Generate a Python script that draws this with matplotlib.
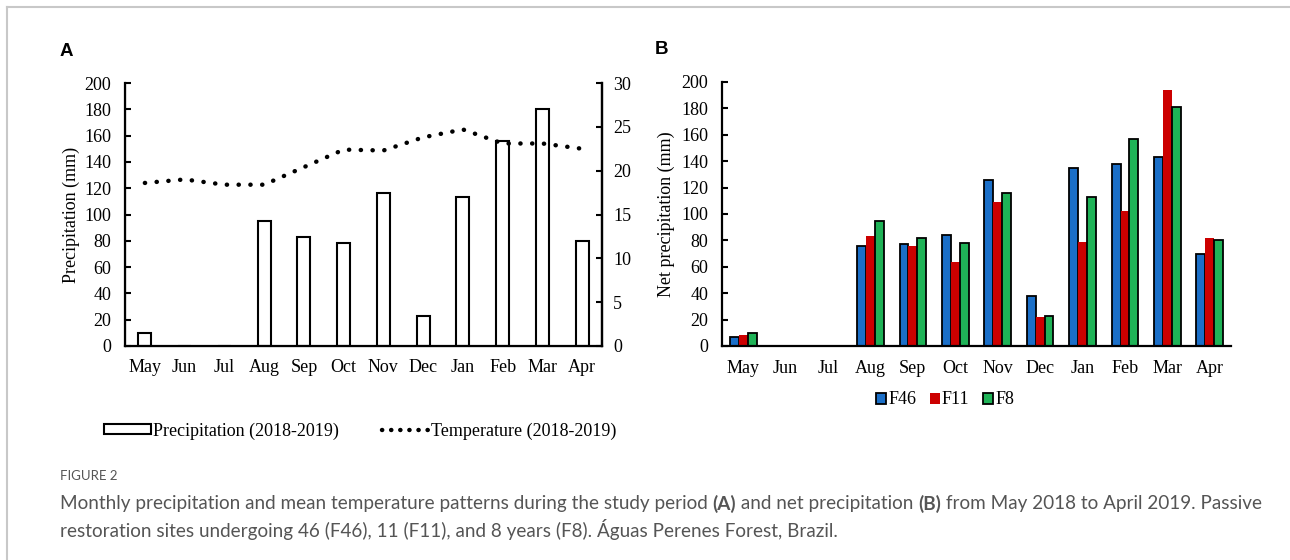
import matplotlib
matplotlib.use("Agg")
import matplotlib.pyplot as plt
import numpy as np
from matplotlib.lines import Line2D
from matplotlib.patches import Patch

# ── Data ──
months = ["May", "Jun", "Jul", "Aug", "Sep", "Oct", "Nov", "Dec", "Jan", "Feb", "Mar", "Apr"]
precipitation = [10, 0, 0, 95, 83, 78, 116, 23, 113, 156, 180, 80]
temperature = [18.6, 19.0, 18.4, 18.4, 20.4, 22.4, 22.3, 23.8, 24.7, 23.1, 23.1, 22.5]
f46 = [7, 0, 0, 76, 77, 84, 126, 38, 135, 138, 143, 70]
f11 = [8, 0, 0, 83, 76, 64, 109, 22, 79, 102, 194, 82]
f8 = [10, 0, 0, 95, 82, 78, 116, 23, 113, 157, 181, 80]

W, H = 1290, 560
SERIF = "Liberation Serif"
FS = 13

fig = plt.figure(figsize=(W / 100, H / 100), dpi=100)
plt.rcParams["font.family"] = SERIF

x = np.arange(len(months))
DOTS = (0, (0.05, 2.6))

# ==========================================
# A. precipitation + temperature
# ==========================================
axA = fig.add_axes([125 / W, 1 - 346 / H, 477 / W, 263 / H])
axA.bar(x, precipitation, width=0.33, facecolor="white", edgecolor="black", linewidth=1.5)
axA.set_xlim(-0.5, 11.5)
axA.set_ylim(0, 200)
axA.set_yticks(range(0, 201, 20))
axA.set_xticks(x, months)
axA.set_ylabel("Precipitation (mm)", fontsize=FS)
axA.yaxis.set_label_coords(-0.095, 0.5)
axA.spines["top"].set_visible(False)
for s in ["left", "bottom", "right"]:
    axA.spines[s].set_linewidth(1.6)
axA.tick_params(axis="x", length=0, pad=9, labelsize=FS)
axA.tick_params(axis="y", direction="in", length=4, width=1.5, pad=10, labelsize=FS)

axT = axA.twinx()
axT.plot(x, temperature, color="black", linestyle=DOTS, linewidth=3.2,
         dash_capstyle="round", solid_capstyle="round")
axT.set_ylim(0, 30)
axT.set_yticks(range(0, 31, 5))
axT.spines["top"].set_visible(False)
axT.spines["right"].set_linewidth(1.6)
axT.tick_params(axis="y", direction="in", length=4, width=1.5, pad=8, labelsize=FS)

legA = [Patch(facecolor="white", edgecolor="black", linewidth=1.5, label="Precipitation (2018-2019)"),
        Line2D([0], [0], color="black", linestyle=(0, (0.05, 2.0)), linewidth=3.2,
               dash_capstyle="round", label="Temperature (2018-2019)")]
fig.legend(handles=legA, loc="center", bbox_to_anchor=(360 / W, 1 - 431 / H), ncol=2,
           frameon=False, fontsize=FS, handlelength=2.6, handleheight=0.5,
           handletextpad=0.12, columnspacing=2.4)

fig.text(66 / W, 1 - 52 / H, "A", fontsize=13.5, fontweight="bold", family="Liberation Sans",
         ha="center", va="center")

# ==========================================
# B. net precipitation
# ==========================================
axB = fig.add_axes([722 / W, 1 - 346 / H, 509 / W, 264 / H])
bw = 0.21
b1 = axB.bar(x - bw, f46, width=bw, color="#1b6fc8", edgecolor="black", linewidth=1.3, label="F46")
b2 = axB.bar(x, f11, width=bw, color="#cc0000", edgecolor="none", label="F11")
b3 = axB.bar(x + bw, f8, width=bw, color="#1fb357", edgecolor="black", linewidth=1.3, label="F8")
axB.set_xlim(-0.5, 11.5)
axB.set_ylim(0, 200)
axB.set_yticks(range(0, 201, 20))
axB.set_xticks(x, months)
axB.set_ylabel("Net precipitation (mm)", fontsize=FS)
axB.yaxis.set_label_coords(-0.093, 0.5)
for s in ["top", "right"]:
    axB.spines[s].set_visible(False)
for s in ["left", "bottom"]:
    axB.spines[s].set_linewidth(1.6)
axB.tick_params(axis="x", length=0, pad=10, labelsize=FS)
axB.tick_params(axis="y", direction="in", length=4, width=1.5, pad=10, labelsize=FS)

fig.legend(handles=[b1, b2, b3], loc="center", bbox_to_anchor=(945 / W, 1 - 400 / H), ncol=3,
           frameon=False, fontsize=FS, handlelength=0.55, handleheight=0.55,
           handletextpad=0.12, columnspacing=0.75)

fig.text(662 / W, 1 - 50 / H, "B", fontsize=13.5, fontweight="bold", family="Liberation Sans",
         ha="center", va="center")

# ── page frame ──
fig.add_artist(Line2D([7 / W, 7 / W], [0, 1 - 7 / H], color="#c8c8c8", linewidth=1.5))
fig.add_artist(Line2D([7 / W, 1], [1 - 7 / H, 1 - 7 / H], color="#c8c8c8", linewidth=1.5))

# ── caption ──
CAP = "Lato"
CAPC = "#555555"
CAPFS = 13.6
fig.text(60 / W, 1 - 476 / H, "FIGURE 2", fontsize=9.5, family=CAP, color=CAPC, va="center")

renderer = fig.canvas.get_renderer()


def write_line(parts, x0, y0):
    xpos = x0
    for txt, bold in parts:
        t = fig.text(xpos / W, y0, txt, fontsize=CAPFS, family=CAP, color=CAPC, va="center",
                     fontweight="bold" if bold else "normal")
        xpos += t.get_window_extent(renderer).width


write_line([("Monthly precipitation and mean temperature patterns during the study period ", False),
            ("(A)", True), (" and net precipitation ", False), ("(B)", True),
            (" from May 2018 to April 2019. Passive", False)], 60, 1 - 504 / H)
write_line([("restoration sites undergoing 46 (F46), 11 (F11), and 8 years (F8). Águas Perenes Forest, Brazil.",
             False)], 60, 1 - 530 / H)

fig.savefig("out.png", dpi=100)
